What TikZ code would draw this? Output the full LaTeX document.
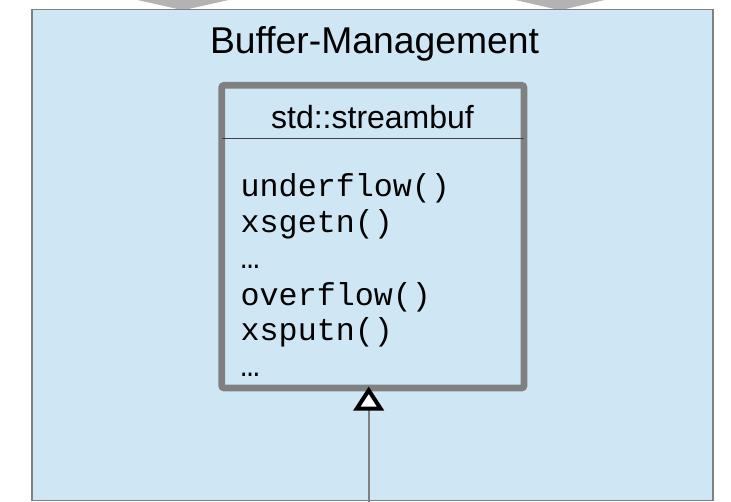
\documentclass[tikz,border=0pt]{standalone}
\usepackage{fontspec}
\setmainfont{Liberation Sans}
\newfontfamily\codefont{Liberation Mono}
\usetikzlibrary{arrows.meta}

\definecolor{pkgfill}{RGB}{207,231,245}
\definecolor{pkgline}{RGB}{128,128,128}
\definecolor{flowgray}{RGB}{179,179,179}
\definecolor{sepline}{RGB}{64,64,64}

\tikzset{
  package/.style={draw=pkgline, line width=1.2pt, fill=pkgfill},
  classbox/.style={draw=pkgline, line width=6.8pt, rounded corners=2.5pt,
    inner sep=0pt, outer sep=0pt, minimum width=302.3pt, minimum height=302.7pt},
  flowtip/.style={fill=flowgray, draw=none},
  method/.style={anchor=base west, inner sep=0pt, font=\codefont\fontsize{31.7}{36}\selectfont},
  inherit/.style={draw=pkgline, line width=1.6pt,
    -{Triangle[open, length=24pt, width=30pt, line width=4pt, color=black, fill=white]},
    shorten >=-1.5pt},
}

\begin{document}
\begin{tikzpicture}[x=1pt, y=-1pt]
  \useasboundingbox (0,0) rectangle (731,501);

  % incoming flow arrows (tips only)
  \path[flowtip] (133,-1) -- (233,-1) -- (184,10) -- (182,10) -- cycle;
  \path[flowtip] (511,-1) -- (609,-1) -- (561,10) -- (559,10) -- cycle;

  % package area
  \path[package] (32,9.5) rectangle (713,500.6);
  \node[anchor=base, inner sep=0pt, font=\fontsize{37.3}{40}\selectfont] (pkgtitle)
    at (374.5,53) {Buffer-Management};

  % class std::streambuf
  \node[classbox] (cls) at (372.85,236.65) {};
  \node[anchor=base, inner sep=0pt, font=\fontsize{32}{36}\selectfont] (clsname)
    at (372.5,128.3) {std::streambuf};
  \coordinate (sepL) at (222,138.3);
  \coordinate (sepR) at (523.5,138.3);
  \draw[sepline, line width=1pt] (sepL) -- (sepR);

  \node[method] (m1) at (240.5,196.7) {underflow()};
  \node[method] (m2) at (240.5,232.7) {xsgetn()};
  \node[method] (m3) at (240.5,268.5) {…};
  \node[method] (m4) at (240.5,305)   {overflow()};
  \node[method] (m5) at (240.5,340.5) {xsputn()};
  \node[method] (m6) at (240.5,376.7) {…};

  % generalization from below
  \coordinate (sub) at (368.7,502);
  \draw[inherit] (sub) -- (cls.south -| sub);
\end{tikzpicture}
\end{document}
